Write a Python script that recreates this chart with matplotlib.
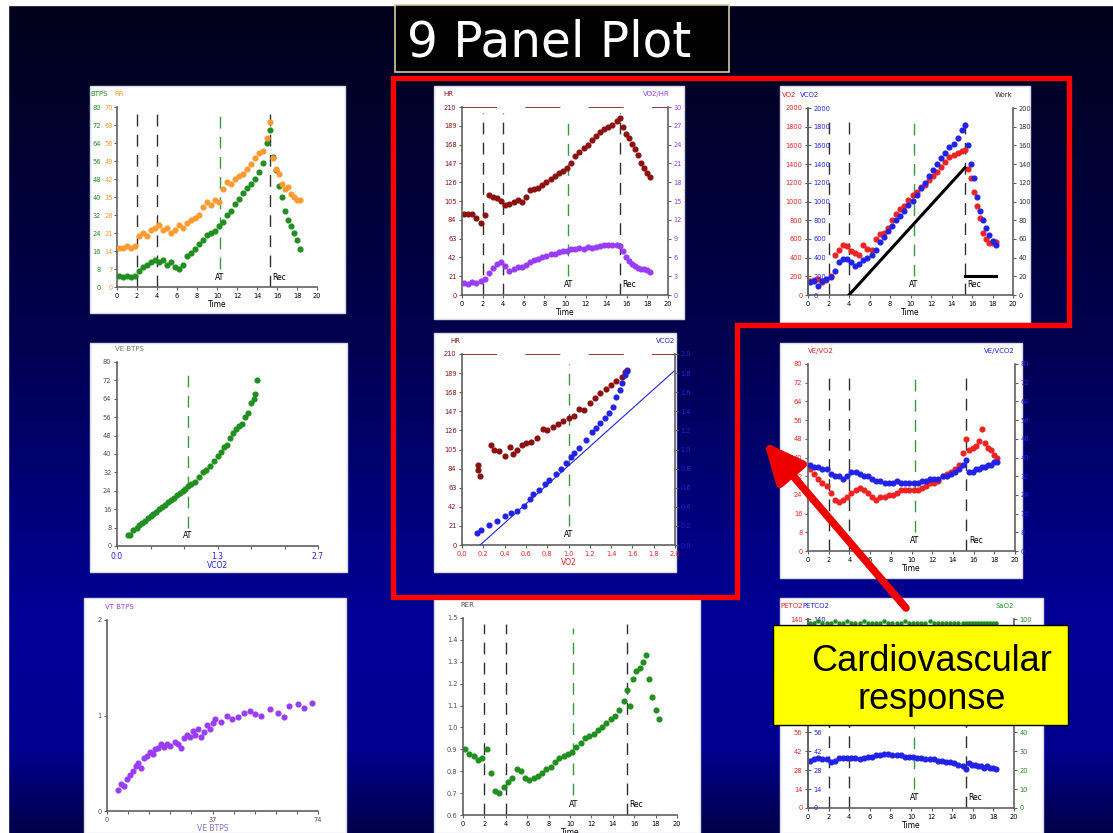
import numpy as np
import matplotlib.pyplot as plt
from matplotlib import patches
from matplotlib.colors import LinearSegmentedColormap

W, H = 1113, 833

# breath-averaged sample times shared by the time panels (min)
minutes = [0.2, 0.6, 1.0, 1.4, 1.8, 2.2, 2.6, 3.0, 3.4, 3.8, 4.2, 4.6, 5.0, 5.4, 5.8,
           6.2, 6.6, 7.0, 7.4, 7.8, 8.2, 8.6, 9.0, 9.4, 9.8, 10.2, 10.6, 11.0, 11.4,
           11.8, 12.2, 12.6, 13.0, 13.4, 13.8, 14.2, 14.6, 15.0, 15.3, 15.6, 15.9,
           16.2, 16.5, 16.8, 17.1, 17.4, 17.7, 18.0, 18.3]
phase_t = [2.0, 4.0, 10.3, 15.3]      # unloaded, ramp start, AT, recovery

# panel 1 : VE BTPS and RR
ve_btps = [5, 4.5, 5, 4.5, 5, 7, 9, 10, 11, 12, 11, 12, 10, 11, 9,
           8, 10, 14, 15, 17, 19, 21, 23, 24, 25, 27, 29, 32, 34,
           37, 39, 42, 44, 46, 48, 51, 55, 64, 70, 58, 52,
           45, 40, 34, 30, 27, 24, 21, 17]
rr = [15, 15, 16, 15, 16, 20, 21, 20, 22, 23, 24, 22, 23, 21, 22,
      24, 23, 25, 26, 27, 28, 31, 33, 32, 34, 33, 38, 41, 40,
      42, 43, 44, 46, 48, 50, 52, 53, 58, 64, 50, 46,
      44, 40, 38, 39, 36, 35, 34, 34]

# panel 2 : HR and VO2/HR
hr = [91, 90, 91, 86, 80, 89, 112, 110, 108, 105, 100, 102, 104, 106, 104,
      110, 117, 118, 120, 123, 126, 130, 133, 136, 139, 142, 148, 155, 160,
      164, 168, 173, 178, 182, 185, 188, 190, 194, 198, 188, 180,
      175, 169, 163, 156, 148, 142, 136, 132]
o2_pulse = [1.9, 1.8, 2.0, 1.9, 2.2, 2.6, 3.5, 4.3, 5.0, 5.2, 4.7, 3.8, 4.2, 4.5, 4.4,
            4.8, 5.2, 5.6, 5.8, 6.1, 6.3, 6.5, 6.6, 6.8, 7.0, 7.1, 7.3, 7.4, 7.5,
            7.4, 7.6, 7.5, 7.7, 7.8, 8.0, 7.9, 8.0, 7.9, 7.8, 7.0, 6.0,
            5.4, 5.0, 4.6, 4.3, 4.1, 4.1, 4.0, 3.6]

# panel 3 : VO2, VCO2 (mL/min) and work rate (W)
vo2 = [150, 160, 170, 140, 160, 200, 430, 480, 540, 520, 470, 450, 430, 530, 490,
       480, 600, 650, 660, 720, 800, 870, 920, 950, 1020, 1070, 1100, 1150, 1180,
       1230, 1270, 1320, 1370, 1420, 1480, 1500, 1520, 1540, 1550, 1350, 1250,
       1100, 950, 820, 660, 600, 560, 560, 570]
vco2 = [140, 150, 100, 150, 170, 190, 260, 350, 390, 380, 350, 310, 330, 370, 400,
        430, 480, 570, 620, 680, 740, 800, 850, 900, 960, 1010, 1070, 1140, 1200,
        1270, 1340, 1400, 1460, 1520, 1580, 1620, 1680, 1760, 1820, 1600, 1400,
        1250, 1050, 900, 800, 720, 640, 580, 540]
work_t = [4.0, 15.3]
work_w = [0, 136]
rec_t = [15.3, 18.3]
rec_w = [20, 20]

# panel 4 : VE BTPS vs VCO2
p4_vco2 = [0.15, 0.18, 0.22, 0.27, 0.30, 0.34, 0.38, 0.42, 0.45, 0.48, 0.52, 0.56,
           0.60, 0.64, 0.68, 0.72, 0.76, 0.80, 0.84, 0.88, 0.92, 0.96, 1.00, 1.05,
           1.10, 1.15, 1.20, 1.25, 1.30, 1.35, 1.40, 1.44, 1.48, 1.52, 1.56, 1.60,
           1.64, 1.68, 1.72, 1.76, 1.80, 1.84, 1.86, 1.88]
p4_ve = [5, 5, 7, 8, 9, 10, 11, 12, 13, 14, 15, 16, 17, 18, 19, 20, 21, 22, 23, 24,
         25, 26, 27, 28, 30, 32, 33, 35, 37, 39, 41, 43, 44, 47, 49, 51, 52, 53,
         56, 58, 62, 64, 66, 72]
p4_at = 0.95

# panel 5 : HR and VCO2 vs VO2
p5_vo2 = [0.15, 0.15, 0.17, 0.27, 0.30, 0.35, 0.40, 0.45, 0.48, 0.52, 0.56, 0.60,
          0.65, 0.70, 0.76, 0.80, 0.85, 0.90, 0.95, 1.00, 1.05, 1.10, 1.15, 1.20,
          1.25, 1.30, 1.35, 1.40, 1.45, 1.50, 1.53, 1.55]
p5_hr = [82, 88, 76, 110, 105, 103, 98, 108, 100, 104, 110, 112, 113, 118, 128, 126,
         130, 133, 136, 140, 142, 150, 148, 156, 162, 167, 172, 176, 180, 185, 190, 192]
p5_vo2_b = [0.14, 0.18, 0.25, 0.33, 0.40, 0.46, 0.52, 0.58, 0.64, 0.67, 0.72, 0.78,
            0.82, 0.88, 0.93, 0.98, 1.02, 1.05, 1.10, 1.16, 1.22, 1.26, 1.30, 1.34,
            1.38, 1.42, 1.45, 1.48, 1.50, 1.53, 1.55]
p5_vco2 = [0.13, 0.16, 0.21, 0.25, 0.30, 0.33, 0.36, 0.41, 0.48, 0.53, 0.58, 0.64,
           0.68, 0.74, 0.80, 0.86, 0.92, 0.96, 1.02, 1.10, 1.18, 1.22, 1.28, 1.33,
           1.38, 1.45, 1.55, 1.62, 1.70, 1.78, 1.82]
p5_line_vo2 = [0.17, 2.0]
p5_line_vco2 = [0.0, 1.83]
p5_at = 1.0

# panel 6 : ventilatory equivalents
ve_vo2 = [35, 33, 31, 29, 28, 25, 22, 21, 22, 23, 25, 26, 27, 26, 25,
          23, 22, 23, 23, 24, 24, 25, 26, 26, 26, 26, 26, 27, 28,
          29, 29, 30, 32, 33, 34, 35, 37, 42, 48, 43, 44,
          45, 47, 52, 46, 44, 43, 41, 40]
ve_vco2 = [37, 36, 36, 35, 35, 33, 32, 32, 31, 32, 34, 34, 33, 32, 32,
           31, 30, 30, 29, 29, 29, 30, 29, 29, 29, 29, 29, 30, 30,
           31, 31, 31, 32, 32, 33, 34, 35, 37, 39, 34, 34,
           35, 35, 36, 36, 37, 37, 38, 38]

# panel 7 : VT vs VE
p7_ve = [4, 5, 6, 7, 8, 9, 10, 11, 12, 13, 14, 15, 16, 17, 18, 19, 20, 21, 22,
         24, 25, 26, 27, 28, 29, 30, 31, 32, 33, 34, 35, 36, 37, 38,
         40, 42, 44, 46, 48, 50, 52, 54, 57, 60, 62, 64, 67, 69, 72]
p7_vt = [0.22, 0.28, 0.26, 0.33, 0.38, 0.42, 0.47, 0.50, 0.45, 0.55, 0.58, 0.62,
         0.60, 0.65, 0.66, 0.70, 0.67, 0.70, 0.68, 0.72, 0.70, 0.66, 0.76, 0.80,
         0.78, 0.84, 0.80, 0.86, 0.77, 0.83, 0.90, 0.86, 0.92, 0.96, 0.93, 1.00,
         0.96, 0.98, 1.03, 1.05, 1.02, 1.00, 1.07, 1.03, 0.98, 1.10, 1.12, 1.08, 1.13]

# panel 8 : RER
rer = [0.90, 0.88, 0.87, 0.85, 0.86, 0.90, 0.79, 0.71, 0.70, 0.73, 0.75, 0.77, 0.81, 0.80, 0.77,
       0.76, 0.77, 0.78, 0.79, 0.81, 0.82, 0.84, 0.86, 0.87, 0.88, 0.89, 0.91, 0.93, 0.95,
       0.96, 0.97, 0.99, 1.00, 1.02, 1.04, 1.05, 1.08, 1.12, 1.17, 1.10, 1.22,
       1.26, 1.27, 1.30, 1.33, 1.22, 1.14, 1.08, 1.04]

# panel 9 : PETCO2 and SaO2
petco2 = [35, 36, 37, 36, 36, 34, 35, 37, 37, 37, 37, 37, 36, 37, 38,
          38, 39, 39, 40, 40, 39, 39, 39, 38, 38, 38, 37, 37, 36,
          36, 36, 35, 35, 34, 34, 33, 32, 31, 29, 33, 32,
          32, 31, 31, 30, 31, 30, 30, 29]
sao2 = [98, 98, 99, 98, 98, 98, 99, 98, 98, 99, 98, 98, 98, 99, 98,
        98, 98, 98, 99, 98, 98, 98, 98, 99, 98, 98, 98, 98, 98,
        99, 98, 98, 98, 98, 98, 98, 98, 98, 98, 98, 98,
        98, 98, 98, 98, 98, 98, 98, 98]

p4_xlabels = ['0.0', '', '', '1.3', '', '', '2.7']
p7_xlabels = ['0', '', '', '', '', '37', '', '', '', '', '74']
# panel 9 labels; the middle ones sit under the call-out box
p9_left_labels = ['0', '14', '28', '42', '56', '', '', '', '', '', '140']
p9_right_labels = ['0', '10', '20', '30', '40', '', '', '', '', '', '100']

GREEN = '#1f8f1f'
ORANGE = '#ff9a30'
DARKRED = '#8b1010'
PURPLE = '#9a3cf5'
RED = '#ee2222'
BLUE = '#2222e6'
GRAY = '#606060'
MS = 3.4

fig = plt.figure(figsize=(W / 100, H / 100), dpi=100)

# slide background
bg = fig.add_axes([0, 0, 1, 1])
bg.set_zorder(-5)
bg.set_xlim(0, W)
bg.set_ylim(H, 0)
bg.axis('off')
cmap = LinearSegmentedColormap.from_list(
    'slide', [(0, '#02021a'), (0.4, '#00004e'), (0.75, '#000098'), (0.9, '#00008e'), (1, '#00004a')])
bg.imshow(np.linspace(0, 1, 256).reshape(-1, 1), cmap=cmap, extent=[0, W, H, 0], aspect='auto')
bg.add_patch(patches.Rectangle((0, 0), W, 5, color='white'))
bg.add_patch(patches.Rectangle((0, 0), 8, H, color='white'))

panel_boxes = [(90, 86, 345, 313), (434, 86, 684, 319), (780, 86, 1030, 322),
               (90, 343, 347, 572), (434, 333, 676, 572), (780, 343, 1022, 578),
               (84, 598, 346, 833), (434, 598, 700, 833), (780, 598, 1043, 833)]
for x0, y0, x1, y1 in panel_boxes:
    bg.add_patch(patches.Rectangle((x0, y0), x1 - x0, y1 - y0, facecolor='white',
                                   edgecolor='#d8d8e8', lw=1))

bg.add_patch(patches.Rectangle((395, 5), 334, 67, facecolor='black', edgecolor='#d2caa0', lw=1.2))
bg.text(407, 56, '9 Panel Plot', color='white', fontsize=35, family='DejaVu Sans',
        ha='left', va='baseline')


def make_axes(box):
    x0, y0, x1, y1 = box
    ax = fig.add_axes([x0 / W, 1 - y1 / H, (x1 - x0) / W, (y1 - y0) / H])
    ax.patch.set_visible(False)
    ax.spines['top'].set_visible(False)
    ax.spines['right'].set_visible(False)
    for s in ax.spines.values():
        s.set_color(GRAY)
        s.set_linewidth(1.2)
    ax.tick_params(labelsize=4.8, length=2.5, width=0.8, pad=1.5, color=GRAY)
    return ax


def twin(ax, ylim, ticks, color, where='right'):
    a2 = ax.twinx()
    a2.patch.set_visible(False)
    a2.set_ylim(*ylim)
    a2.set_yticks(ticks)
    for s in ['top', 'left', 'bottom']:
        a2.spines[s].set_visible(False)
    a2.spines['right'].set_color(GRAY)
    a2.spines['right'].set_linewidth(1.2)
    a2.tick_params(labelsize=4.8, length=2.5, width=0.8, pad=1.5, color=GRAY, labelcolor=color)
    if where == 'inside':
        a2.spines['right'].set_position(('axes', 0))
    elif where == 'left':
        a2.spines['right'].set_visible(False)
        a2.tick_params(axis='y', left=True, right=False, labelleft=True, labelright=False,
                       length=0, pad=3)
    return a2


def tag(ax, text, color, dx, dy=10, ha='left'):
    ax.annotate(text, xy=(0 if ha == 'left' else 1, 1), xycoords='axes fraction',
                xytext=(dx, dy), textcoords='offset pixels', fontsize=5, color=color,
                ha=ha, va='bottom')


def at_line(ax, x):
    ax.axvline(x, ymin=0.1, ymax=0.95, color='#3a9a3a', lw=1, ls=(0, (8.5, 6)))
    ax.text(x, 0.03, 'AT', transform=ax.get_xaxis_transform(), fontsize=5.5,
            ha='center', va='bottom')


def time_axis(ax):
    ax.set_xlim(0, 20)
    ax.set_xticks(range(0, 21, 2))
    ax.set_xlabel('Time', fontsize=5.5, labelpad=1)
    for x in [phase_t[0], phase_t[1], phase_t[3]]:
        ax.axvline(x, ymin=0, ymax=0.97, color='#303030', lw=1, ls=(0, (8.5, 6)))
    at_line(ax, phase_t[2])
    ax.text(phase_t[3] + 0.25, 0.03, 'Rec', transform=ax.get_xaxis_transform(),
            fontsize=5.5, ha='left', va='bottom')


# panel 1
ax = make_axes((117, 107, 317, 287))
time_axis(ax)
ax.set_ylim(0, 80)
ax.set_yticks(range(0, 81, 8))
ax.tick_params(axis='y', labelcolor=GREEN, pad=9)
ax.plot(minutes, ve_btps, 'o', color=GREEN, ms=MS)
a2 = twin(ax, (0, 70), range(0, 71, 7), ORANGE, where='left')
a2.plot(minutes, rr, 'o', color=ORANGE, ms=MS)
tag(ax, 'BTPS', GREEN, -27)
tag(ax, 'RR', ORANGE, -3)

# panel 2
ax = make_axes((462, 107, 668, 295))
time_axis(ax)
ax.set_ylim(0, 210)
ax.set_yticks(range(0, 211, 21))
ax.tick_params(axis='y', labelcolor=DARKRED)
ax.axhline(210, color=DARKRED, lw=1.2, ls=(0, (21, 17)))
ax.plot(minutes, hr, 'o', color=DARKRED, ms=MS)
a2 = twin(ax, (0, 30), range(0, 31, 3), PURPLE)
a2.plot(minutes, o2_pulse, 'o', color=PURPLE, ms=MS)
tag(ax, 'HR', DARKRED, -19)
tag(ax, 'VO2/HR', PURPLE, 2, ha='right')

# panel 3
ax = make_axes((808, 108, 1013, 295))
time_axis(ax)
ax.set_ylim(0, 2000)
ax.set_yticks(range(0, 2001, 200))
ax.tick_params(axis='y', labelcolor=RED)
ax.plot(minutes, vo2, 'o', color=RED, ms=MS)
a2 = twin(ax, (0, 2000), range(0, 2001, 200), BLUE, where='inside')
a2.plot(minutes, vco2, 'o', color=BLUE, ms=MS)
a3 = twin(ax, (0, 200), range(0, 201, 20), '#303030')
a3.plot(work_t, work_w, color='black', lw=2.2)
a3.plot(rec_t, rec_w, color='black', lw=2.2)
tag(ax, 'VO2', RED, -26)
tag(ax, 'VCO2', BLUE, -8)
tag(ax, 'Work', '#303030', 0, ha='right')

# panel 4
ax = make_axes((117, 362, 318, 546))
ax.set_xlim(0, 2.7)
ax.set_xticks([0, 0.45, 0.9, 1.35, 1.8, 2.25, 2.7])
ax.set_xticklabels(p4_xlabels)
ax.tick_params(axis='x', labelcolor=BLUE, labelsize=5.5)
ax.set_ylim(0, 80)
ax.set_yticks(range(0, 81, 8))
ax.tick_params(axis='y', labelcolor='#505050')
ax.set_xlabel('VCO2', fontsize=5.5, color=BLUE, labelpad=0)
at_line(ax, p4_at)
ax.plot(p4_vco2, p4_ve, 'o', color=GREEN, ms=MS)
tag(ax, 'VE BTPS', '#707070', -2)

# panel 5
ax = make_axes((462, 354, 675, 545))
ax.set_xlim(0, 2.0)
ax.set_xticks(np.round(np.arange(0, 2.01, 0.2), 1))
ax.set_xticklabels([f'{v:.1f}' for v in np.arange(0, 2.01, 0.2)])
ax.tick_params(axis='x', labelcolor=RED)
ax.set_ylim(0, 210)
ax.set_yticks(range(0, 211, 21))
ax.tick_params(axis='y', labelcolor=DARKRED)
ax.set_xlabel('VO2', fontsize=5.5, color=RED, labelpad=1)
ax.axhline(210, color=DARKRED, lw=1.2, ls=(0, (21, 17)))
at_line(ax, p5_at)
ax.plot(p5_vo2, p5_hr, 'o', color=DARKRED, ms=MS)
a2 = twin(ax, (0, 2.0), np.round(np.arange(0, 2.01, 0.2), 1), BLUE)
a2.set_yticklabels([f'{v:.1f}' for v in np.arange(0, 2.01, 0.2)])
a2.plot(p5_line_vo2, p5_line_vco2, color=BLUE, lw=0.8)
a2.plot(p5_vo2_b, p5_vco2, 'o', color=BLUE, ms=MS)
tag(ax, 'HR', DARKRED, -12)
tag(ax, 'VCO2', BLUE, 0, ha='right')

# panel 6
ax = make_axes((808, 364, 1015, 551))
time_axis(ax)
ax.set_ylim(0, 80)
ax.set_yticks(range(0, 81, 8))
ax.tick_params(axis='y', labelcolor=RED)
ax.plot(minutes, ve_vo2, 'o', color=RED, ms=MS)
a2 = twin(ax, (0, 80), range(0, 81, 8), BLUE)
a2.plot(minutes, ve_vco2, 'o', color=BLUE, ms=MS)
tag(ax, 'VE/VO2', RED, 0)
tag(ax, 'VE/VCO2', BLUE, 0, ha='right')

# panel 7
ax = make_axes((107, 620, 318, 811))
ax.set_xlim(0, 74)
ax.set_xticks(np.linspace(0, 74, 11))
ax.set_xticklabels(p7_xlabels)
ax.set_ylim(0, 2)
ax.set_yticks([0, 1, 2])
ax.tick_params(labelcolor='#505050')
ax.set_xlabel('VE BTPS', fontsize=5.5, color='#8a70c0', labelpad=1)
ax.plot(p7_ve, p7_vt, 'o', color=PURPLE, ms=MS)
tag(ax, 'VT BTPS', PURPLE, -2)

# panel 8
ax = make_axes((463, 618, 677, 815))
time_axis(ax)
ax.set_ylim(0.6, 1.5)
ax.set_yticks(np.round(np.arange(0.6, 1.51, 0.1), 1))
ax.set_yticklabels([f'{v:.1f}' for v in np.arange(0.6, 1.51, 0.1)])
ax.tick_params(axis='y', labelcolor='#505050')
ax.plot(minutes, rer, 'o', color=GREEN, ms=MS)
tag(ax, 'RER', '#505050', -3)

# panel 9
ax = make_axes((808, 619, 1014, 808))
time_axis(ax)
ax.set_ylim(0, 140)
ax.set_yticks(range(0, 141, 14))
ax.set_yticklabels(p9_left_labels)
ax.tick_params(axis='y', labelcolor=RED)
a2 = twin(ax, (0, 140), range(0, 141, 14), BLUE, where='inside')
a2.set_yticklabels(p9_left_labels)
a2.plot(minutes, petco2, 'o', color=BLUE, ms=MS)
a3 = twin(ax, (0, 100), range(0, 101, 10), GREEN)
a3.set_yticklabels(p9_right_labels)
a3.plot(minutes, sao2, 'o', color=GREEN, ms=2.2)
tag(ax, 'PETO2', RED, -28)
tag(ax, 'PETCO2', BLUE, -6)
tag(ax, 'SaO2', GREEN, 0, ha='right')

# overlay: red outline, arrow and call-out
top = fig.add_axes([0, 0, 1, 1])
top.set_zorder(20)
top.patch.set_alpha(0)
top.axis('off')
top.set_xlim(0, W)
top.set_ylim(H, 0)
top.add_patch(patches.Polygon([(393, 78), (1069, 78), (1069, 325), (737, 325), (737, 597), (393, 597)],
                              closed=True, fill=False, edgecolor='#ff0000', lw=3.8))
top.annotate('', xy=(764, 442), xytext=(906, 608),
             arrowprops=dict(arrowstyle='-|>,head_length=1.2,head_width=0.55', color='#ee0000',
                             lw=5.5, shrinkA=0, shrinkB=0, mutation_scale=20))
top.add_patch(patches.Rectangle((773, 625), 295, 100, facecolor='#ffff00', edgecolor='black', lw=1))
top.text(932, 671, 'Cardiovascular', fontsize=26, family='Liberation Sans', ha='center', va='baseline')
top.text(932, 709, 'response', fontsize=26, family='Liberation Sans', ha='center', va='baseline')

fig.savefig('out.png', dpi=100)
